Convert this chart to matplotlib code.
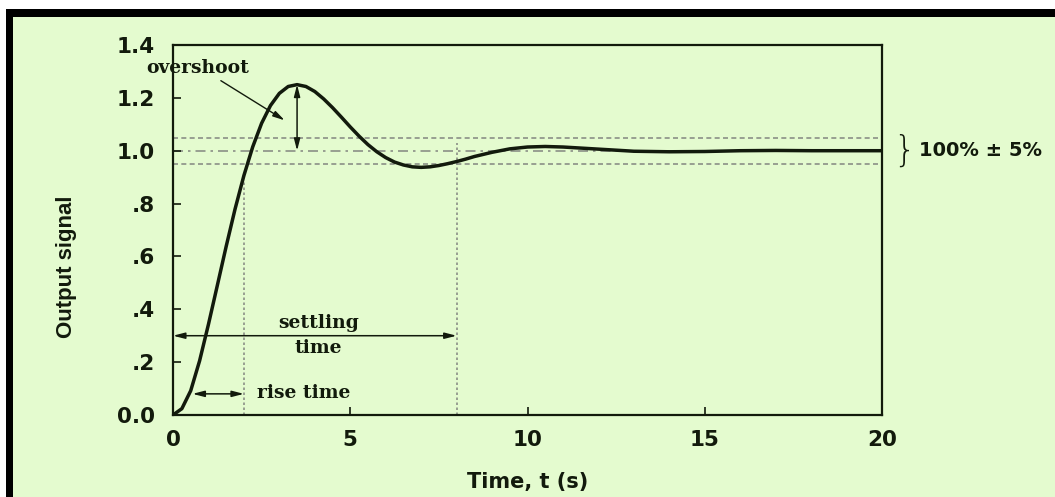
import matplotlib
matplotlib.use('Agg')
import matplotlib.pyplot as plt
from matplotlib.patches import Rectangle

# 読み取ったステップ応答 (時間 [s], 出力)
t_vals = [0, 0.25, 0.5, 0.75, 1, 1.25, 1.5, 1.75, 2, 2.25,
          2.5, 2.75, 3, 3.25, 3.5, 3.75, 4, 4.25, 4.5, 4.75,
          5, 5.25, 5.5, 5.75, 6, 6.25, 6.5, 6.75, 7, 7.25,
          7.5, 7.75, 8, 8.25, 8.5, 9, 9.5, 10, 10.5, 11,
          12, 13, 14, 15, 16, 17, 18, 20]
y_vals = [0, 0.024, 0.092, 0.205, 0.343, 0.490, 0.638, 0.779, 0.906, 1.015,
          1.104, 1.171, 1.217, 1.243, 1.250, 1.243, 1.224, 1.196, 1.163, 1.127,
          1.090, 1.055, 1.023, 0.996, 0.974, 0.957, 0.946, 0.939, 0.937, 0.939,
          0.944, 0.951, 0.959, 0.968, 0.978, 0.994, 1.007, 1.014, 1.016, 1.014,
          1.006, 0.998, 0.996, 0.997, 1.000, 1.001, 1.000, 1.000]

x_ticks = [0, 5, 10, 15, 20]
y_ticks = [0.0, 0.2, 0.4, 0.6, 0.8, 1.0, 1.2, 1.4]
y_ticklabels = ['0.0', '.2', '.4', '.6', '.8', '1.0', '1.2', '1.4']

band_lo, band_mid, band_hi = 0.95, 1.0, 1.05
rise_time = 2.0
settling_time = 8.0
peak_time, peak_value = 3.5, 1.25

bg = '#e4fbcf'
ink = '#121a0c'
grey = '#8a8f86'

fig = plt.figure(figsize=(10.55, 4.97), dpi=100)
fig.patch.set_facecolor('white')
# 黒い枠 (上と左)
fig.patches.append(Rectangle((6 / 1055, 0), 1.0, (497 - 9) / 497,
                             transform=fig.transFigure, facecolor='black',
                             edgecolor='none', zorder=-3))
fig.patches.append(Rectangle((13 / 1055, 0), 1.0, (497 - 17) / 497,
                             transform=fig.transFigure, facecolor=bg,
                             edgecolor='none', zorder=-2))

ax = fig.add_axes([173 / 1055, 1 - 415 / 497, (882 - 173) / 1055, (415 - 45) / 497])
ax.set_facecolor(bg)

# 許容帯と補助線
ax.axhline(band_hi, color=grey, lw=1.2, ls=(0, (3, 2)), zorder=1)
ax.axhline(band_lo, color=grey, lw=1.2, ls=(0, (3, 2)), zorder=1)
ax.axhline(band_mid, color=grey, lw=1.2, ls=(0, (6, 3, 1.5, 3)), zorder=1)
ax.plot([rise_time, rise_time], [0, 0.88], color=grey, lw=1.2, ls=(0, (1.5, 1.5)), zorder=1)
ax.plot([settling_time, settling_time], [0, 1.03], color=grey, lw=1.2, ls=(0, (1.5, 1.5)), zorder=1)

# 応答曲線
ax.plot(t_vals, y_vals, color=ink, lw=2.5, solid_capstyle='round',
        solid_joinstyle='round', zorder=3)

arrow2 = dict(arrowstyle='<|-|>,head_length=0.7,head_width=0.18', color=ink, lw=1.1,
              shrinkA=0, shrinkB=0)
ax.annotate('', xy=(peak_time, band_mid), xytext=(peak_time, peak_value), arrowprops=arrow2, zorder=4)
ax.annotate('', xy=(0.0, 0.30), xytext=(settling_time, 0.30), arrowprops=arrow2, zorder=4)
ax.annotate('', xy=(0.55, 0.08), xytext=(rise_time, 0.08), arrowprops=arrow2, zorder=4)
ax.annotate('', xy=(3.15, 1.115), xytext=(1.35, 1.265),
            arrowprops=dict(arrowstyle='-|>,head_length=0.7,head_width=0.18', color=ink,
                            lw=1.0, shrinkA=0, shrinkB=0), zorder=4)

serif = dict(family='DejaVu Serif', fontweight='bold', fontsize=13.5, color=ink)
ax.text(-0.75, 1.313, 'overshoot', ha='left', va='center', clip_on=False, **serif)
ax.text(4.1, 0.35, 'settling', ha='center', va='center', **serif)
ax.text(4.1, 0.252, 'time', ha='center', va='center', **serif)
ax.text(2.38, 0.083, 'rise time', ha='left', va='center', **serif)

ax.text(20.3, 1.0, '}', ha='left', va='center', fontsize=25, color=ink,
        family='DejaVu Sans', fontweight='light', clip_on=False)
ax.text(21.05, 1.0, '100% \u00b1 5%', ha='left', va='center', fontsize=14,
        fontweight='bold', family='DejaVu Sans', color=ink, clip_on=False)

ax.set_xlim(0, 20)
ax.set_ylim(0, 1.4)
ax.set_xticks(x_ticks)
ax.set_yticks(y_ticks)
ax.set_yticklabels(y_ticklabels)
ax.tick_params(direction='in', length=6, width=1.2, colors=ink, labelsize=15.5)
ax.tick_params(axis='y', pad=13)
ax.tick_params(axis='x', pad=11)
for lab in ax.get_xticklabels() + ax.get_yticklabels():
    lab.set_fontweight('bold')
    lab.set_family('DejaVu Sans')
for sp in ax.spines.values():
    sp.set_color(ink)
    sp.set_linewidth(1.6)

ax.set_xlabel('Time, t (s)', fontsize=15, fontweight='bold', family='DejaVu Sans', color=ink)
ax.xaxis.set_label_coords(0.5, -0.154)
ax.xaxis.label.set_va('top')
ax.set_ylabel('Output signal', fontsize=16, fontweight='bold', family='Liberation Sans', color=ink)
ax.yaxis.set_label_coords(-0.135, 0.40)

fig.savefig('out.png', dpi=100, facecolor=fig.get_facecolor())
